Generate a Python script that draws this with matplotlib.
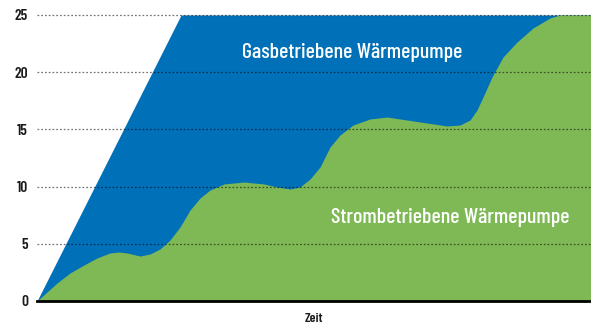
import matplotlib
matplotlib.use("Agg")
import matplotlib.pyplot as plt

# Zeitachse (0-100) und Verlauf der beiden Wärmepumpen
zeit_strom = [0, 1.81, 3.61, 5.96, 8.48, 10.83, 13.18, 14.80, 16.25, 18.59,
              20.40, 22.20, 24.01, 25.81, 27.62, 29.42, 31.23, 33.75, 37.36,
              40.97, 43.32, 45.67, 47.47, 49.28, 51.08, 52.89, 54.69, 57.04,
              60.11, 63.18, 66.79, 70.40, 74.01, 76.35, 78.16, 79.42, 80.51,
              82.13, 84.12, 86.64, 89.53, 92.60, 94.40, 100]
strom = [0, 0.79, 1.57, 2.45, 3.15, 3.76, 4.20, 4.28, 4.20, 3.93,
         4.11, 4.55, 5.33, 6.47, 7.95, 9.00, 9.70, 10.23, 10.40,
         10.23, 9.97, 9.79, 9.97, 10.66, 11.71, 13.46, 14.51, 15.38,
         15.91, 16.08, 15.82, 15.56, 15.30, 15.38, 15.82, 16.70, 17.83,
         19.58, 21.33, 22.64, 23.86, 24.74, 25.0, 25.0]

zeit_gas = [0, 26.0, 100]
gas = [0, 25, 25]

yticks = [0, 5, 10, 15, 20, 25]

plt.rcParams["font.family"] = ["Barlow Condensed", "DejaVu Sans"]

blau = "#0070b8"
gruen = "#7eb955"

fig = plt.figure(figsize=(5.91, 3.22), dpi=100)
ax = fig.add_axes([37 / 591, 21 / 322, 554 / 591, 286 / 322])

ax.fill_between(zeit_gas, 0, gas, color=blau, lw=0, zorder=1)
ax.fill_between(zeit_strom, 0, strom, color=gruen, lw=0, zorder=2)

ax.set_xlim(0, 100)
ax.set_ylim(0, 25)
ax.set_yticks(yticks)
ax.set_xticks([])
for y in yticks[1:]:
    ax.axhline(y, color="black", alpha=0.55, lw=0.9, ls=(0, (1.4, 1.6)),
               zorder=3, clip_on=False)

for s in ["top", "right", "left"]:
    ax.spines[s].set_visible(False)
ax.spines["bottom"].set_linewidth(2.0)
ax.spines["bottom"].set_zorder(4)
ax.tick_params(axis="y", length=0, pad=6.5, labelsize=11, labelcolor="#1a1a1a")
for lab in ax.get_yticklabels():
    lab.set_fontweight(600)

ax.text(56.95, 21.24, "Gasbetriebene Wärmepumpe", color="white", fontsize=15.8,
        fontweight=500, ha="center", va="baseline", zorder=5)
ax.text(74.6, 6.82, "Strombetriebene Wärmepumpe", color="white", fontsize=15.8,
        fontweight=500, ha="center", va="baseline", zorder=5)
fig.text(314 / 591, 1 - 313 / 322, "Zeit", fontsize=10, fontweight=600,
         color="#1a1a1a", ha="center", va="top")

fig.savefig("out.png", dpi=100)
